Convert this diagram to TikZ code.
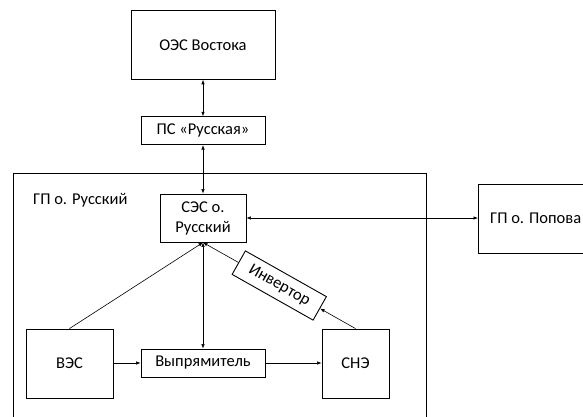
\documentclass[tikz,border=0pt]{standalone}
\usepackage{fontspec}
\setmainfont{Carlito}
\usetikzlibrary{arrows.meta}
\begin{document}
\begin{tikzpicture}[x=1pt,y=-1pt,
  box/.style={draw,line width=0.9pt,inner sep=0pt,align=center,font=\fontsize{16.5}{20}\selectfont},
  conn/.style={line width=0.6pt,-{Latex[length=4.5pt,width=3.5pt]}},
  bconn/.style={line width=0.6pt,{Latex[length=4.5pt,width=3.5pt]}-{Latex[length=4.5pt,width=3.5pt]}},
  lbl/.style={inner sep=0pt,font=\fontsize{16.5}{20}\selectfont}]
\useasboundingbox (0,0) rectangle (583,416);
\clip (0,0) rectangle (583,416);
\node[box,minimum width=144pt,minimum height=68.6pt] (oes) at (203,45) {ОЭС Востока};
\node[box,minimum width=124pt,minimum height=28pt] (ps) at (203,130.7) {ПС «Русская»};
\draw[line width=0.9pt] (13,420) -- (13,173) -- (426,173) -- (426,420);
\node[lbl,anchor=west] (gpr) at (33,200) {ГП о. Русский};
\node[box,minimum width=86pt,minimum height=48pt] (ses) at (203,218) {СЭС о.\\Русский};
\node[box,minimum width=120pt,minimum height=69pt,anchor=west] (pop) at (478,218.5) {};
\node[lbl,anchor=west] (popt) at (490,218.5) {ГП о. Попова};
\node[box,minimum width=87pt,minimum height=69pt] (ves) at (69.5,363.5) {ВЭС};
\node[box,minimum width=124pt,minimum height=28pt] (vyp) at (203,363) {Выпрямитель};
\node[box,minimum width=67pt,minimum height=69pt] (sne) at (355.5,363.5) {СНЭ};
\path (sne.north) -- node[box,sloped,pos=0.5,minimum width=93pt,minimum height=27pt,fill=white] (inv) {Инвертор} (ses.south);
\draw[bconn] (oes.south) -- (ps.north);
\draw[bconn] (ps.south) -- (ses.north);
\draw[bconn] (ses.east) -- (ses.east -| pop.west);
\draw[bconn] (ses.south) -- (vyp.north);
\draw[conn] (ves.north) -- (ses.south);
\draw[conn] (ves.east |- vyp.west) -- (vyp.west);
\draw[conn] (vyp.east) -- (vyp.east -| sne.west);
\draw[conn] (sne.north) -- (inv);
\draw[conn] (inv) -- (ses.south);
\end{tikzpicture}
\end{document}
